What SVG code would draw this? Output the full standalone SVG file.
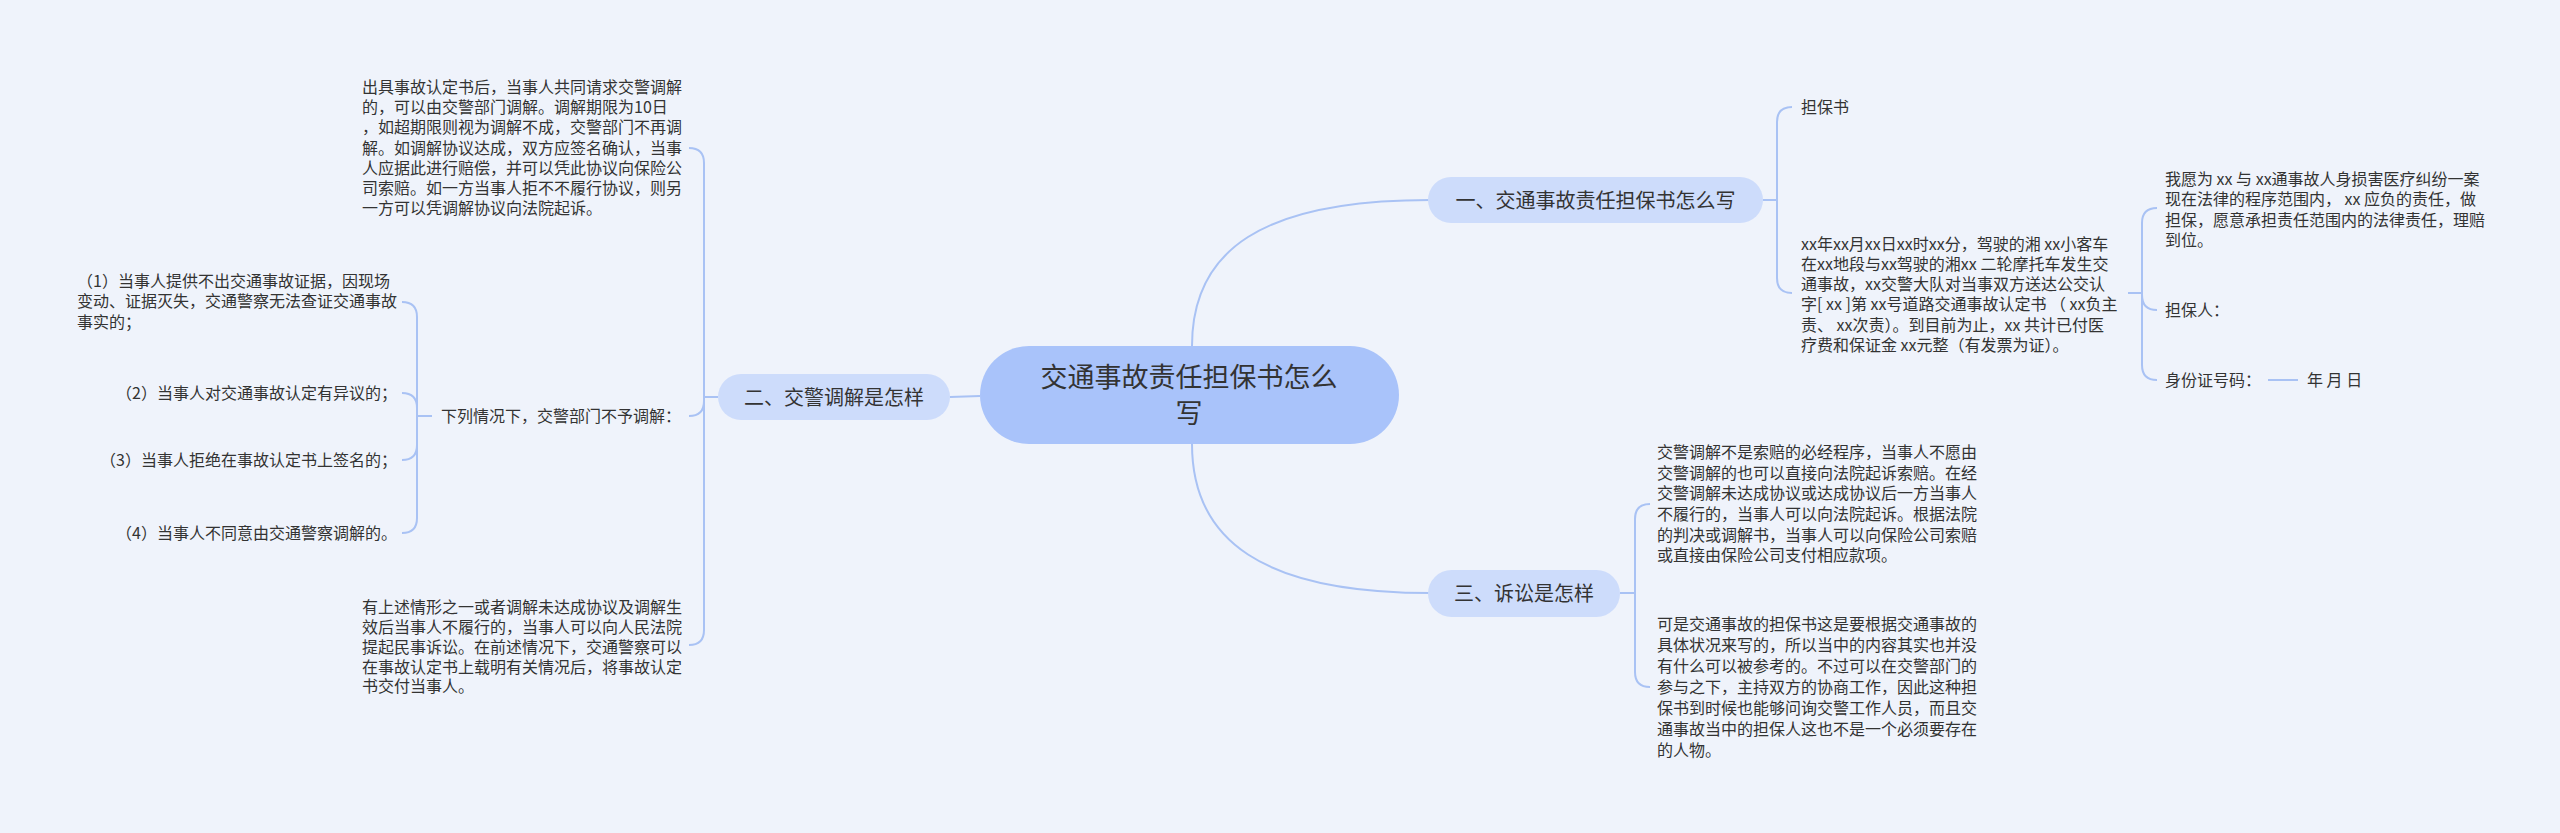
<svg xmlns="http://www.w3.org/2000/svg" width="2560" height="833" viewBox="0 0 2560 833">
<style>
text{font-family:"Noto Sans CJK SC","Liberation Sans",sans-serif;fill:#333333}
.t{font-size:16px}
.n{font-size:20px;text-anchor:middle}
.c{font-size:27px;text-anchor:middle}
.lnk{fill:none;stroke:#a9c2f4;stroke-width:2}
.sub{fill:#cddcfb}
</style>
<rect width="2560" height="833" fill="#eff3fb"/>
<g id="connectors">
<path class="lnk" d="M1192 346 C1192 250 1262 200 1430 200"/>
<path class="lnk" d="M1192 444 C1192 540 1262 593 1430 593"/>
<path class="lnk" d="M980 396 L950 397"/>
<path class="lnk" d="M1763 200 H1777 V122 Q1777 107 1792 107"/>
<path class="lnk" d="M1763 200 H1777 V278 Q1777 293 1792 293"/>
<path class="lnk" d="M2128 293 H2142 V223 Q2142 208 2157 208"/>
<path class="lnk" d="M2128 293 H2142 V295 Q2142 310 2157 310"/>
<path class="lnk" d="M2128 293 H2142 V365 Q2142 380 2157 380"/>
<path class="lnk" d="M2268 380 H2298"/>
<path class="lnk" d="M1620 593 H1635 V519 Q1635 504 1650 504"/>
<path class="lnk" d="M1620 593 H1635 V672 Q1635 687 1650 687"/>
<path class="lnk" d="M718 397 H704 V163 Q704 148 689 148"/>
<path class="lnk" d="M718 397 H704 V401 Q704 416 689 416"/>
<path class="lnk" d="M718 397 H704 V630 Q704 645 689 645"/>
<path class="lnk" d="M432 416 H417 V317 Q417 302 402 302"/>
<path class="lnk" d="M432 416 H417 V408 Q417 393 402 393"/>
<path class="lnk" d="M432 416 H417 V445 Q417 460 402 460"/>
<path class="lnk" d="M432 416 H417 V518 Q417 533 402 533"/>
</g>
<g id="root">
<rect x="980" y="346" width="419" height="98" rx="49" fill="#a9c3fa"/>
<text class="c" x="1189" y="387">交通事故责任担保书怎么</text>
<text class="c" x="1189" y="423">写</text>
</g>
<g id="node1">
<rect class="sub" x="1428" y="177" width="335" height="46" rx="23"/>
<text class="n" x="1595.5" y="207.5">一、交通事故责任担保书怎么写</text>
</g>
<g id="node2">
<rect class="sub" x="718" y="374" width="232" height="46" rx="23"/>
<text class="n" x="834" y="404.5">二、交警调解是怎样</text>
</g>
<g id="node3">
<rect class="sub" x="1428" y="570" width="192" height="47" rx="23.5"/>
<text class="n" x="1524" y="601">三、诉讼是怎样</text>
</g>
<g id="n1-a"><text class="t" x="1801" y="113">担保书</text></g>
<g id="n1-b">
<text class="t" x="1801" y="249.5">xx年xx月xx日xx时xx分，驾驶的湘 xx小客车</text>
<text class="t" x="1801" y="269.8">在xx地段与xx驾驶的湘xx 二轮摩托车发生交</text>
<text class="t" x="1801" y="290.1">通事故，xx交警大队对当事双方送达公交认</text>
<text class="t" x="1801" y="310.4">字[ xx ]第 xx号道路交通事故认定书 （ xx负主</text>
<text class="t" x="1801" y="330.7">责、 xx次责）。到目前为止，xx 共计已付医</text>
<text class="t" x="1801" y="351">疗费和保证金 xx元整（有发票为证）。</text>
</g>
<g id="n1-b-1">
<text class="t" x="2165" y="184.5">我愿为 xx 与 xx通事故人身损害医疗纠纷一案</text>
<text class="t" x="2165" y="205">现在法律的程序范围内， xx 应负的责任，做</text>
<text class="t" x="2165" y="225.5">担保，愿意承担责任范围内的法律责任，理赔</text>
<text class="t" x="2165" y="246">到位。</text>
</g>
<g id="n1-b-2"><text class="t" x="2165" y="316">担保人：</text></g>
<g id="n1-b-3"><text class="t" x="2165" y="386">身份证号码：</text></g>
<g id="n1-b-3-1"><text class="t" x="2307" y="386">年 月 日</text></g>
<g id="n2-a">
<text class="t" x="362" y="93">出具事故认定书后，当事人共同请求交警调解</text>
<text class="t" x="362" y="113.2">的，可以由交警部门调解。调解期限为10日</text>
<text class="t" x="362" y="133.3">，如超期限则视为调解不成，交警部门不再调</text>
<text class="t" x="362" y="153.5">解。如调解协议达成，双方应签名确认，当事</text>
<text class="t" x="362" y="173.7">人应据此进行赔偿，并可以凭此协议向保险公</text>
<text class="t" x="362" y="193.8">司索赔。如一方当事人拒不不履行协议，则另</text>
<text class="t" x="362" y="214">一方可以凭调解协议向法院起诉。</text>
</g>
<g id="n2-b"><text class="t" x="441" y="422">下列情况下，交警部门不予调解：</text></g>
<g id="n2-b-1">
<text class="t" x="77" y="287">（1）当事人提供不出交通事故证据，因现场</text>
<text class="t" x="77" y="307.3">变动、证据灭失，交通警察无法查证交通事故</text>
<text class="t" x="77" y="327.6">事实的；</text>
</g>
<g id="n2-b-2"><text class="t" x="397" y="399" text-anchor="end">（2）当事人对交通事故认定有异议的；</text></g>
<g id="n2-b-3"><text class="t" x="397" y="466" text-anchor="end">（3）当事人拒绝在事故认定书上签名的；</text></g>
<g id="n2-b-4"><text class="t" x="397" y="539" text-anchor="end">（4）当事人不同意由交通警察调解的。</text></g>
<g id="n2-c">
<text class="t" x="362" y="613">有上述情形之一或者调解未达成协议及调解生</text>
<text class="t" x="362" y="633">效后当事人不履行的，当事人可以向人民法院</text>
<text class="t" x="362" y="652.7">提起民事诉讼。在前述情况下，交通警察可以</text>
<text class="t" x="362" y="672.5">在事故认定书上载明有关情况后，将事故认定</text>
<text class="t" x="362" y="692.3">书交付当事人。</text>
</g>
<g id="n3-a">
<text class="t" x="1657" y="458">交警调解不是索赔的必经程序，当事人不愿由</text>
<text class="t" x="1657" y="478.6">交警调解的也可以直接向法院起诉索赔。在经</text>
<text class="t" x="1657" y="499.3">交警调解未达成协议或达成协议后一方当事人</text>
<text class="t" x="1657" y="519.9">不履行的，当事人可以向法院起诉。根据法院</text>
<text class="t" x="1657" y="540.6">的判决或调解书，当事人可以向保险公司索赔</text>
<text class="t" x="1657" y="561.2">或直接由保险公司支付相应款项。</text>
</g>
<g id="n3-b">
<text class="t" x="1657" y="630">可是交通事故的担保书这是要根据交通事故的</text>
<text class="t" x="1657" y="651">具体状况来写的，所以当中的内容其实也并没</text>
<text class="t" x="1657" y="672">有什么可以被参考的。不过可以在交警部门的</text>
<text class="t" x="1657" y="693">参与之下，主持双方的协商工作，因此这种担</text>
<text class="t" x="1657" y="714">保书到时候也能够问询交警工作人员，而且交</text>
<text class="t" x="1657" y="735">通事故当中的担保人这也不是一个必须要存在</text>
<text class="t" x="1657" y="756">的人物。</text>
</g>
</svg>
